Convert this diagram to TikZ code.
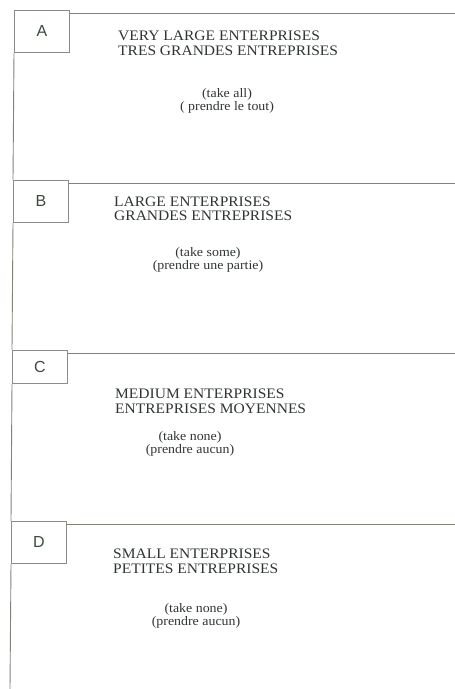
\documentclass[tikz,border=0pt]{standalone}
\usepackage{fontspec}
\setmainfont{Liberation Serif}[FakeStretch=1.07]
\newfontfamily\letterfont{Liberation Sans}
\definecolor{inkgray}{HTML}{2F3530}
\definecolor{rulegray}{HTML}{7D857A}
\definecolor{boxgray}{HTML}{8A8C88}
\definecolor{lettergreen}{HTML}{3C4A3C}
\begin{document}
\begin{tikzpicture}[x=1pt,y=-1pt,
    frame/.style={draw=rulegray, line width=0.9pt},
    letterbox/.style={draw=boxgray, line width=0.8pt, anchor=north west,
      minimum width=55pt, minimum height=42pt, inner sep=0pt,
      font=\letterfont\fontsize{16}{16}\selectfont, text=lettergreen},
    heading/.style={anchor=west, align=left, inner sep=0pt, text=inkgray,
      font=\fontsize{14.5}{14.5}\selectfont},
    choice/.style={align=center, inner sep=0pt, text=inkgray,
      font=\fontsize{13}{13}\selectfont}]
	    \useasboundingbox (0,0) rectangle (455,689);
	    % letter boxes
	    \foreach \lab/\xl/\yt in {A/14/10, B/13/180, D/11/521}
		\node[letterbox] (box\lab) at (\xl,\yt) {\lab};
	    \node[letterbox, minimum height=33pt] (boxC) at (12,350) {C};
	    % top rules
	    \foreach \lab/\yt in {A/13, B/183, C/353, D/524}
		\draw[frame] (box\lab.east |- 0,\yt) -- (455,\yt);
	    % left rule
	    \coordinate (bottom) at (10,689);
	    \draw[frame] (boxA.south west) -- (boxB.north west);
	    \draw[frame] (boxB.south west) -- (boxC.north west);
	    \draw[frame] (boxC.south west) -- (boxD.north west);
	    \draw[frame] (boxD.south west) -- (bottom);
	    % headings
	    \node[heading] (headA) at (118,43.5) {VERY LARGE ENTERPRISES\\TRES GRANDES ENTREPRISES};
	    \node[heading] (headB) at (114,209) {LARGE ENTERPRISES\\GRANDES ENTREPRISES};
	    \node[heading] (headC) at (115,401.5) {MEDIUM ENTERPRISES\\ENTREPRISES MOYENNES};
	    \node[heading] (headD) at (113,561.5) {SMALL ENTERPRISES\\PETITES ENTREPRISES};
	    % sampling rule
	    \node[choice] (takeA) at (227,101) {(take all)\\( prendre le tout)};
	    \node[choice] (takeB) at (208,259.5) {(take some)\\(prendre une partie)};
	    \node[choice] (takeC) at (190,443.5) {(take none)\\(prendre aucun)};
	    \node[choice] (takeD) at (196,615.5) {(take none)\\(prendre aucun)};
	\end{tikzpicture}
\end{document}
